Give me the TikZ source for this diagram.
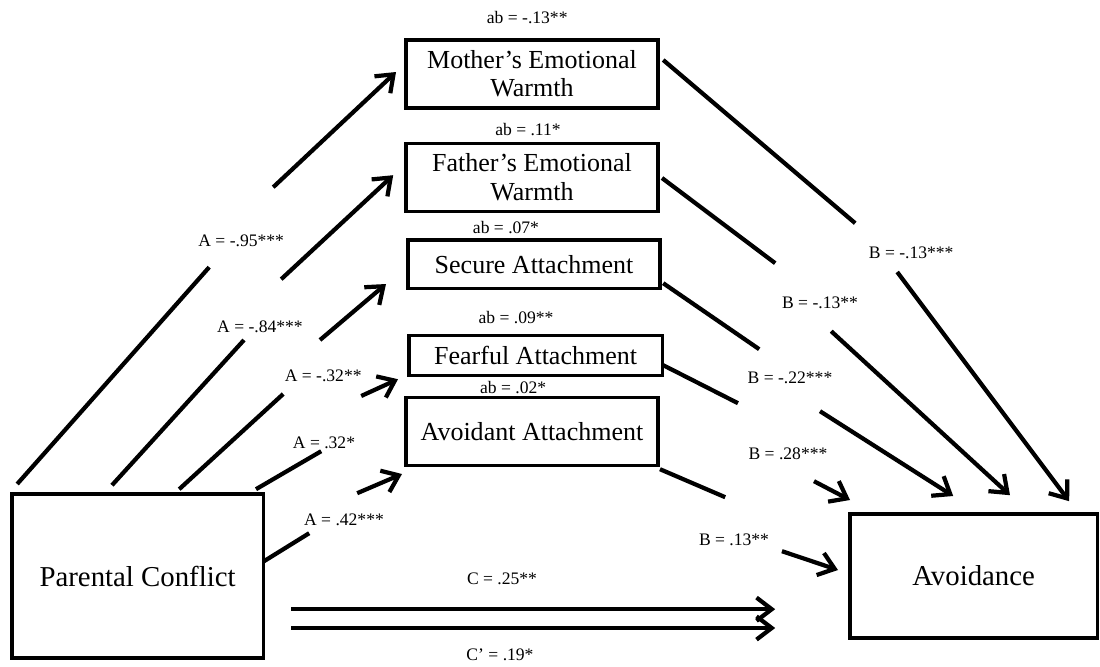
\documentclass[tikz,border=0pt]{standalone}
\usepackage{fontspec}
\setmainfont{Liberation Serif}
\usetikzlibrary{arrows.meta}

\begin{document}
\begin{tikzpicture}[>={Straight Barb[length=3.8mm, width=5.8mm]},
    varbox/.style={draw, line width=2.3pt, align=center, inner sep=0pt, font=\fontsize{18.5}{20}\selectfont},
    bigbox/.style={draw, line width=2.3pt, inner sep=0pt, font=\fontsize{20.5}{24}\selectfont},
    coef/.style={inner sep=0pt, font=\fontsize{12.5}{14}\selectfont},
    link/.style={line width=3pt}]
        \useasboundingbox (0, 0) rectangle (27.5, -16.65);

        % Mediators
        \node[varbox, minimum width=6.3cm, minimum height=1.7cm] (mother) at (13.30, -1.85) {Mother’s Emotional\\Warmth};
        \node[varbox, minimum width=6.3cm, minimum height=1.7cm] (father) at (13.30, -4.43) {Father’s Emotional\\Warmth};
        \node[varbox, minimum width=6.3cm, minimum height=1.22cm] (secure) at (13.35, -6.61) {Secure Attachment};
        \node[varbox, minimum width=6.33cm, minimum height=1.0cm] (fearful) at (13.39, -8.88) {Fearful Attachment};
        \node[varbox, minimum width=6.3cm, minimum height=1.7cm] (avoidant) at (13.30, -10.78) {Avoidant Attachment};

        % Predictor and outcome
        \node[bigbox, minimum width=6.28cm, minimum height=4.1cm] (conflict) at (3.44, -14.4) {Parental Conflict};
        \node[bigbox, minimum width=6.18cm, minimum height=3.1cm] (avoidance) at (24.34, -14.4) {Avoidance};

        % Indirect effects
        \node[coef] (abm) at (13.18, -0.45) {ab = -.13**};
        \node[coef] (abf) at (13.20, -3.25) {ab = .11*};
        \node[coef] (abs) at (12.65, -5.68) {ab = .07*};
        \node[coef] (abr) at (12.90, -7.93) {ab = .09**};
        \node[coef] (abv) at (12.83, -9.68) {ab = .02*};

        % a paths
        \coordinate (am1) at (0.43, -12.10);  \coordinate (am2) at (5.23, -6.68);
        \coordinate (am3) at (6.83, -4.68);   \coordinate (am4) at (9.90, -1.80);
        \coordinate (af1) at (2.80, -12.13);  \coordinate (af2) at (6.10, -8.50);
        \coordinate (af3) at (7.03, -6.98);   \coordinate (af4) at (9.83, -4.38);
        \coordinate (as1) at (4.48, -12.23);  \coordinate (as2) at (7.08, -9.85);
        \coordinate (as3) at (8.00, -8.50);   \coordinate (as4) at (9.65, -7.10);
        \coordinate (ar1) at (6.40, -12.23);  \coordinate (ar2) at (8.03, -11.28);
        \coordinate (ar3) at (9.03, -9.90);   \coordinate (ar4) at (9.95, -9.48);
        \coordinate (av1) at (6.60, -14.03);  \coordinate (av2) at (7.73, -13.33);
        \coordinate (av3) at (8.93, -12.33);  \coordinate (av4) at (10.05, -11.85);
        \draw[link] (am1) -- (am2);  \draw[link, ->] (am3) -- (am4);
        \draw[link] (af1) -- (af2);  \draw[link, ->] (af3) -- (af4);
        \draw[link] (as1) -- (as2);  \draw[link, ->] (as3) -- (as4);
        \draw[link] (ar1) -- (ar2);  \draw[link, ->] (ar3) -- (ar4);
        \draw[link] (av1) -- (av2);  \draw[link, ->] (av3) -- (av4);
        \node[coef] (am) at (6.03, -6.03) {A = -.95***};
        \node[coef] (af) at (6.50, -8.18) {A = -.84***};
        \node[coef] (as) at (8.08, -9.40) {A = -.32**};
        \node[coef] (ar) at (8.10, -11.08) {A = .32*};
        \node[coef] (av) at (8.60, -13.00) {A = .42***};

        % b paths
        \coordinate (bm1) at (16.58, -1.50);  \coordinate (bm2) at (21.38, -5.58);
        \coordinate (bm3) at (22.43, -6.80);  \coordinate (bm4) at (26.73, -12.53);
        \coordinate (bf1) at (16.55, -4.45);  \coordinate (bf2) at (19.38, -6.58);
        \coordinate (bf3) at (20.78, -8.28);  \coordinate (bf4) at (25.25, -12.38);
        \coordinate (bs1) at (16.58, -7.08);  \coordinate (bs2) at (18.98, -8.73);
        \coordinate (bs3) at (20.50, -10.28); \coordinate (bs4) at (23.83, -12.40);
        \coordinate (br1) at (16.58, -9.13);  \coordinate (br2) at (18.45, -10.08);
        \coordinate (br3) at (20.35, -12.03); \coordinate (br4) at (21.25, -12.50);
        \coordinate (bv1) at (16.50, -11.73); \coordinate (bv2) at (18.13, -12.43);
        \coordinate (bv3) at (19.55, -13.78); \coordinate (bv4) at (20.95, -14.25);
        \draw[link] (bm1) -- (bm2);  \draw[link, ->] (bm3) -- (bm4);
        \draw[link] (bf1) -- (bf2);  \draw[link, ->] (bf3) -- (bf4);
        \draw[link] (bs1) -- (bs2);  \draw[link, ->] (bs3) -- (bs4);
        \draw[link] (br1) -- (br2);  \draw[link, ->] (br3) -- (br4);
        \draw[link] (bv1) -- (bv2);  \draw[link, ->] (bv3) -- (bv4);
        \node[coef] (bm) at (22.78, -6.33) {B = -.13***};
        \node[coef] (bf) at (20.50, -7.58) {B = -.13**};
        \node[coef] (bs) at (19.75, -9.45) {B = -.22***};
        \node[coef] (br) at (19.70, -11.35) {B = .28***};
        \node[coef] (bv) at (18.35, -13.50) {B = .13**};

        % total and direct effect
        \coordinate (c1) at (7.28, -15.23);   \coordinate (c2) at (19.38, -15.23);
        \coordinate (cp1) at (7.28, -15.70);  \coordinate (cp2) at (19.38, -15.70);
        \draw[link, ->] (c1) -- (c2);
        \draw[link, ->] (cp1) -- (cp2);
        \node[coef] (c) at (12.55, -14.48) {C = .25**};
        \node[coef] (cp) at (12.50, -16.38) {C’ = .19*};
    \end{tikzpicture}
\end{document}
